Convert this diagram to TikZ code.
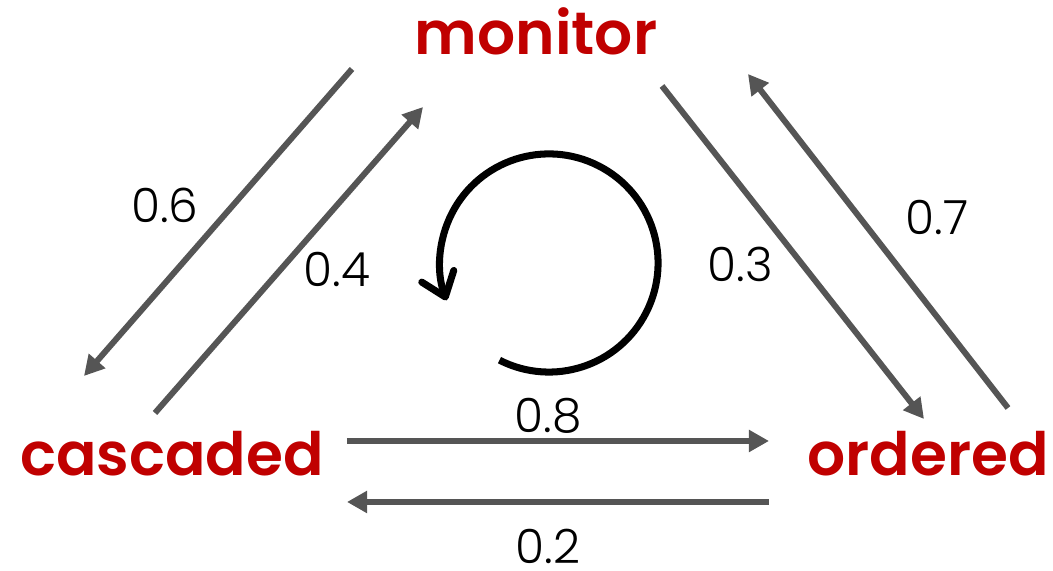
\documentclass[tikz,border=0pt]{standalone}
\usepackage{fontspec}
\setmainfont{Poppins}
\newfontfamily\probfont{Poppins Light}
\newfontfamily\statefont{Poppins SemiBold}
\usetikzlibrary{arrows.meta}
\definecolor{statered}{HTML}{C00000}
\definecolor{edgegray}{HTML}{555555}

\begin{document}
\begin{tikzpicture}[
		x=0.01cm, y=-0.01cm,
		state/.style={text=statered, font=\statefont\fontsize{17}{17}\selectfont, inner sep=0pt, anchor=base},
		prob/.style={font=\probfont\fontsize{13.4}{13.4}\selectfont, inner sep=0pt, anchor=base},
		edge/.style={draw=edgegray, line width=1.7pt, -{Triangle[length=0.2cm, width=0.21cm]}},
		selfloop/.style={draw=black, line width=2pt, -{Straight Barb[length=0.22cm, width=0.34cm, round]}}
	]
	\useasboundingbox (0,0) rectangle (1053,571);

	% states
	\node[state] (monitor) at (536,55) {monitor};
	\node[state] (cascaded) at (172,476) {cascaded};
	\node[state] (ordered) at (928,476) {ordered};

	% end points of the transitions
	\coordinate (mc-from) at (352,69);
	\coordinate (mc-to) at (84,376);
	\coordinate (cm-from) at (155,413);
	\coordinate (cm-to) at (423,107);
	\coordinate (mo-from) at (662,86);
	\coordinate (mo-to) at (924,419);
	\coordinate (om-from) at (1008,408);
	\coordinate (om-to) at (748,74);
	\coordinate (co-from) at (347,441);
	\coordinate (co-to) at (769,441);
	\coordinate (oc-from) at (769,502);
	\coordinate (oc-to) at (347,502);
	\coordinate (loop) at (549,263);

	\draw[edge] (mc-from) -- (mc-to);
	\draw[edge] (cm-from) -- (cm-to);
	\draw[edge] (mo-from) -- (mo-to);
	\draw[edge] (om-from) -- (om-to);
	\draw[edge] (co-from) -- (co-to);
	\draw[edge] (oc-from) -- (oc-to);
	\draw[selfloop] ([shift={(-117:1.09cm)}]loop) arc[start angle=-117, end angle=200, radius=1.09cm];

	% probabilities
	\node[prob] (p-mc) at (165,223) {0.6};
	\node[prob] (p-cm) at (337,287) {0.4};
	\node[prob] (p-mo) at (740,282) {0.3};
	\node[prob] (p-om) at (937,235) {0.7};
	\node[prob] (p-co) at (548,433) {0.8};
	\node[prob] (p-oc) at (548,564) {0.2};
\end{tikzpicture}
\end{document}
